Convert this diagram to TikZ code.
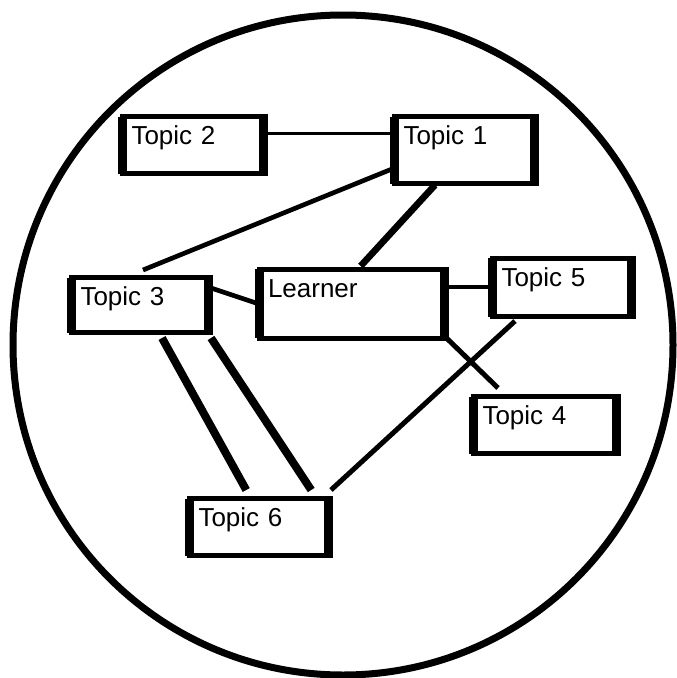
\documentclass[tikz,border=0pt]{standalone}
\usepackage{fontspec}
\setmainfont{Liberation Sans}
\usepackage{tikz}
\tikzset{
    topic/.style={
            rectangle,
            draw,
            fill=white,
            line width=3.75pt,
            anchor=north west,
            outer sep=0pt,
            align=left,
            inner xsep=6.75pt,
            inner ysep=0pt,
            text height=21pt,
            font=\fontsize{19.5}{22}\selectfont
        },
    side/.style={
            line width=6.75pt,
            shorten <=-1.875pt,
            shorten >=-1.875pt
        },
    connector/.style={
            line width=#1
        },
    connector/.default=3.75pt
}

\begin{document}
\begin{tikzpicture}[x=0.75pt,y=-0.75pt]
  \useasboundingbox (0,0) rectangle (676,678);
  % the learner's world
  \draw[line width=5.25pt] (343,345) circle [radius=247.5pt];

  \node[topic, text width=92.25pt, text depth=21.75pt] (t2) at (122.5,116.5) {Topic 2};
  \node[topic, text width=91.5pt, text depth=29.25pt] (t1) at (394.5,116.5) {Topic 1};
  \node[topic, text width=89.25pt, text depth=20.25pt] (t3) at (71.5,277.5) {Topic 3};
  \node[topic, text width=125.5pt, text depth=30.75pt] (learner) at (259,269) {Learner};
  \node[topic, text width=90.4pt, text depth=22.9pt] (t5) at (492.5,258) {Topic 5};
  \node[topic, text width=93.75pt, text depth=21.75pt] (t4) at (473.5,396.5) {Topic 4};
  \node[topic, text width=91.1pt, text depth=22.1pt] (t6) at (189.5,498.5) {Topic 6};
  \foreach \n in {t1,t2,t3,t4,t5,t6,learner}
    \draw[side] (\n.north west) -- (\n.south west) (\n.north east) -- (\n.south east);

  \draw[connector=2.25pt] ([shift={(0,-12)}]t2.east) -- ([shift={(0,-12)}]t2.east -| t1.west);
  \draw[connector=3.5pt] ([shift={(-2.5,-14.5)}]t1.south west) -- ([shift={(3,-7.5)}]t3.north);
  \draw[connector=5pt] ([shift={(-29.5,1.5)}]t1.south) -- ([shift={(9,-3)}]learner.north);
  \draw[connector=3.5pt] ([shift={(2.5,10.5)}]t3.north east) -- ([shift={(-3,34)}]learner.north west);
  \draw[connector=3pt] ([shift={(0,-17)}]learner.east) -- ([shift={(0,-17)}]learner.east -| t5.west);
  \draw[connector] ([shift={(-1,-3)}]learner.south east) -- ([shift={(24.5,-8.5)}]t4.north west);
  \draw[connector] ([shift={(22.5,4.5)}]t5.south west) -- ([shift={(2,-8.5)}]t6.north east);
  \draw[connector=6pt] ([shift={(22,5.5)}]t3.south) -- ([shift={(-13,-8.5)}]t6.north);
  \draw[connector=6pt] ([shift={(2.5,5.5)}]t3.south east) -- ([shift={(52,-8.5)}]t6.north);
\end{tikzpicture}
\end{document}
